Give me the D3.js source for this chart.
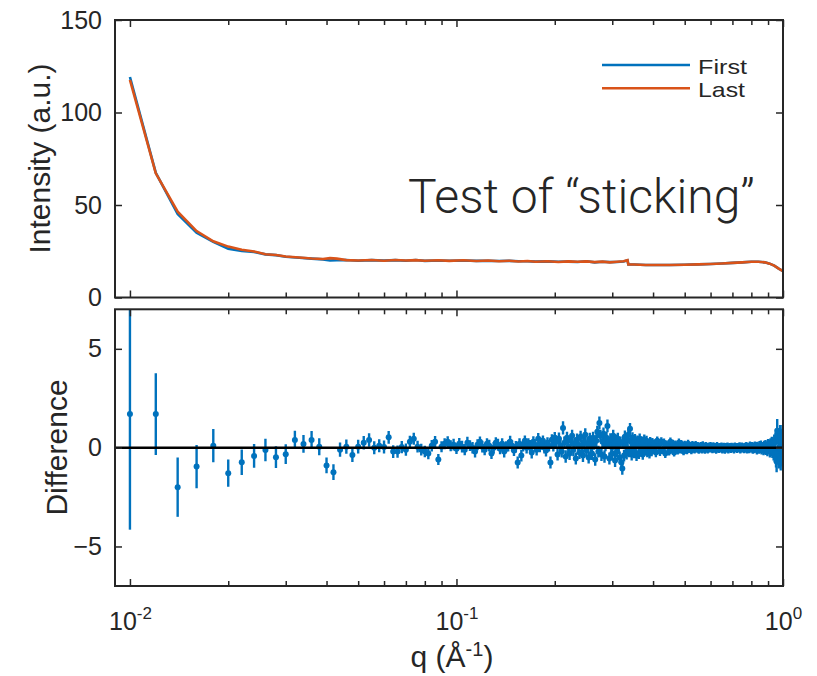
<!DOCTYPE html>
<html>
<head>
<meta charset="utf-8">
<script src="https://cdn.jsdelivr.net/npm/d3@7"></script>
<style>
  body { margin: 0; background: #fff; }
  text { font-family: 'Liberation Sans', Arial, sans-serif; fill: #262626; }
</style>
</head>
<body>
<div id="chart"></div>
<script>
/* globals d3 */

// intensity curves (top panel)
let qCurve = [0.010, 0.012, 0.014, 0.016, 0.018, 0.020, 0.022, 0.024, 0.026, 0.028,
  0.030, 0.033, 0.036, 0.039, 0.041, 0.043, 0.046, 0.050, 0.055, 0.060,
  0.065, 0.070, 0.075, 0.080, 0.088, 0.095, 0.105, 0.115, 0.125, 0.135,
  0.145, 0.155, 0.165, 0.175, 0.190, 0.205, 0.220, 0.235, 0.250, 0.265,
  0.280, 0.295, 0.310, 0.325, 0.334, 0.336, 0.350, 0.380, 0.410, 0.450,
  0.500, 0.550, 0.600, 0.650, 0.700, 0.750, 0.800, 0.840, 0.880, 0.910,
  0.940, 0.970, 1.000]
let intensityFirst = [119.2, 67.4, 45.2, 35.0, 30.1, 26.3, 25.2, 24.6, 23.3, 22.9,
  22.0, 21.5, 21.0, 20.6, 20.0, 20.2, 20.3, 19.9, 20.2, 20.0,
  20.2, 19.9, 20.3, 19.8, 20.0, 19.9, 20.0, 19.8, 19.9, 19.7,
  19.8, 19.6, 19.6, 19.4, 19.5, 19.3, 19.4, 19.2, 19.6, 19.0,
  19.3, 19.1, 19.2, 19.5, 20.1, 17.9, 17.8, 17.6, 17.6, 17.6,
  17.7, 17.9, 18.1, 18.4, 18.7, 19.0, 19.3, 19.3, 19.0, 18.3,
  17.2, 15.6, 14.3]
let intensityLast = [117.6, 67.1, 46.4, 35.9, 30.4, 27.5, 25.8, 24.9, 23.4, 23.0,
  22.2, 21.6, 21.1, 20.8, 21.3, 21.0, 20.2, 20.0, 20.3, 19.9,
  20.3, 20.0, 20.2, 19.9, 20.1, 19.8, 20.1, 19.7, 20.0, 19.6,
  19.9, 19.5, 19.7, 19.3, 19.6, 19.2, 19.5, 19.3, 19.5, 19.1,
  19.4, 19.0, 19.3, 19.6, 20.2, 17.9, 17.8, 17.6, 17.6, 17.6,
  17.7, 17.9, 18.1, 18.4, 18.7, 19.0, 19.3, 19.3, 19.0, 18.3,
  17.2, 15.6, 14.2]

// difference (bottom panel), q in 1e-3 A^-1
let qMilli = [10, 12, 14, 16, 18, 20, 22, 24, 26, 28, 30, 32, 34, 36, 38, 40, 42, 44, 46, 48,
  50, 52, 54, 56, 58, 60, 62, 64, 66, 68, 70, 72, 74, 76, 78, 80, 82, 84, 86, 88, 90, 92, 94,
  96, 98, 100, 102, 104, 106, 108, 110, 112, 114, 116, 118, 120, 122, 124, 126, 128, 130,
  132, 134, 136, 138, 140, 142, 144, 146, 148, 150, 152, 154, 156, 158, 160, 162, 164, 166,
  168, 170, 172, 174, 176, 178, 180, 182, 184, 186, 188, 190, 192, 194, 196, 198, 200,
  202, 204, 206, 208, 210, 212, 214, 216, 218, 220,
  222, 224, 226, 228, 230, 232, 234, 236, 238, 240,
  242, 244, 246, 248, 250, 252, 254, 256, 258, 260,
  262, 264, 266, 268, 270, 272, 274, 276, 278, 280,
  282, 284, 286, 288, 290, 292, 294, 296, 298, 300,
  302, 304, 306, 308, 310, 312, 314, 316, 318, 320,
  322, 324, 326, 328, 330, 332, 334, 336, 338, 340,
  342, 344, 346, 348, 350, 352, 354, 356, 358, 360,
  362, 364, 366, 368, 370, 372, 374, 376, 378, 380,
  382, 384, 386, 388, 390, 392, 394, 396, 398, 400,
  404, 408, 412, 416, 420, 424, 428, 432, 436, 440,
  444, 448, 452, 456, 460, 464, 468, 472, 476, 480,
  484, 488, 492, 496, 500, 504, 508, 512, 516, 520,
  524, 528, 532, 536, 540, 544, 548, 552, 556, 560,
  564, 568, 572, 576, 580, 584, 588, 592, 596, 600,
  604, 608, 612, 616, 620, 624, 628, 632, 636, 640,
  644, 648, 652, 656, 660, 664, 668, 672, 676, 680,
  684, 688, 692, 696, 700, 704, 708, 712, 716, 720,
  724, 728, 732, 736, 740, 744, 748, 752, 756, 760,
  764, 768, 772, 776, 780, 784, 788, 792, 796, 800,
  804, 808, 812, 816, 820, 824, 828, 832, 836, 840,
  844, 848, 852, 856, 860, 864, 868, 872, 876, 880,
  884, 888, 892, 896, 900, 904, 908, 912, 916, 920,
  924, 928, 932, 936, 940, 944, 948, 952, 956, 960,
  964, 968, 972, 976, 980, 984, 988, 992, 996, 1000]
let difference = [1.7, 1.7, -2.0, -0.96, 0.1, -1.29, -0.74, -0.42, -0.12, -0.48,
  -0.33, 0.39, 0.19, 0.39, 0.05, -0.9, -1.24, -0.1, 0.05, -0.37,
  0.05, 0.25, 0.39, 0.0, 0.1, 0.03, 0.52, -0.2, -0.2, 0.03,
  -0.1, 0.3, 0.45, 0.05, -0.1, -0.2, -0.3, 0.1, 0.3, -0.6,
  0.05, 0.2, 0.3,
  0.1, 0.15, -0.05, 0.2, 0.05, -0.1, 0.25, 0.1, 0.0, -0.2,
  0.15, 0.3, 0.05, -0.1, 0.2, 0.1, -0.3, 0.0, 0.25, 0.15,
  -0.05, 0.2, -0.2, 0.05, 0.1, 0.3, 0.1, -0.15, 0.05, -0.75,
  0.2, -0.4, 0.1, 0.35, 0.0, 0.2, 0.1, -0.25, 0.3, 0.15,
  -0.1, 0.45, 0.05, 0.2, 0.35, 0.0, -0.15, 0.25, 0.1, -0.75,
  0.4, 0.1, 0.5,
  0.3, -0.35, 0.45, 0.1, -0.2, 1.0, 0.25, -0.45, 0.5, 0.05,
  -0.3, 0.35, 0.6, -0.1, 0.2, -0.55, 0.4, 0.15, -0.25, 0.55,
  0.1, -0.4, 0.3, 0.65, -0.15, 0.2, -0.5, 0.45, 0.05, -0.3,
  0.5, 0.2, -0.6, 0.35, 0.8, -0.2, 1.25, 0.6, -0.35, 0.3,
  0.7, -0.45, 0.15, 0.5, 1.1, 0.25, -0.55, 0.4, 0.05, -0.3,
  0.6, 0.2, -0.65, 0.35, -0.2, 0.45, 0.1, -0.5, 0.25, -0.75,
  -1.05, 0.3, -0.4, 0.55, 0.1, -0.3, 0.4, 0.65, -0.2, 0.95,
  0.3, -0.35, 0.5, 0.15, -0.25, 0.4, 0.05, -0.4, 0.35, 0.2,
  -0.3, 0.45, 0.1, -0.2, 0.3, -0.35, 0.25, 0.4, -0.15, 0.1,
  0.35, -0.25, 0.2, 0.05, -0.3, 0.3, 0.15, -0.2, 0.25, 0.0,
  0.2, -0.25, 0.35, 0.05, -0.2, 0.3, -0.1, 0.25, -0.3, 0.15,
  0.1, -0.2, 0.3, -0.05, 0.2, -0.25, 0.15, 0.05, -0.15, 0.25,
  -0.1, 0.2, 0.0, -0.2, 0.15, 0.1, -0.15, 0.2, -0.05, 0.1,
  -0.15, 0.15, 0.05, -0.1, 0.15, -0.05, 0.1, -0.12, 0.05, 0.1,
  -0.1, 0.12, 0.0, -0.12, 0.1, 0.05, -0.1, 0.08, -0.05, 0.1,
  0.0, -0.1, 0.08, -0.05, 0.05, -0.12, 0.1, 0.0, -0.08, 0.05,
  -0.05, 0.08, -0.1, 0.02, 0.06, -0.12, 0.05, -0.03, 0.08, -0.1,
  0.0, 0.05, -0.08, 0.06, -0.05, 0.02, -0.1, 0.08, -0.02, 0.04,
  -0.08, 0.05, -0.04, 0.08, -0.1, 0.0, 0.06, -0.06, 0.03, -0.08,
  0.06, -0.04, 0.08, -0.1, 0.02, 0.05, -0.08, 0.1, -0.05, 0.0,
  0.08, -0.1, 0.05, -0.06, 0.1, -0.02, 0.06, -0.12, 0.08, 0.0,
  -0.08, 0.1, -0.05, 0.12, -0.1, 0.05, 0.0, -0.12, 0.1, -0.06,
  0.12, -0.1, 0.05, -0.15, 0.15, -0.05, 0.1, -0.18, 0.15, -0.1,
  0.2, -0.15, 0.1, -0.25, 0.25, -0.3, 0.3, -0.5, -0.7, 0.85,
  -0.35, 0.4, -0.45, 0.3, 0.55, -0.5, 0.35, -0.3, 0.45, -0.3]
let errorBar = [5.85, 2.07, 1.5, 1.1, 0.84, 0.69, 0.65, 0.6, 0.57, 0.55,
  0.5, 0.46, 0.45, 0.45, 0.43, 0.4, 0.4, 0.36, 0.36, 0.35,
  0.35, 0.34, 0.34, 0.33, 0.33, 0.33, 0.32, 0.32, 0.31, 0.31,
  0.31, 0.3, 0.3, 0.3, 0.3, 0.29, 0.29, 0.29, 0.29, 0.28,
  0.28, 0.28, 0.28,
  0.28, 0.3, 0.27, 0.29, 0.3, 0.28, 0.3, 0.27, 0.29, 0.3,
  0.28, 0.27, 0.3, 0.29, 0.28, 0.3, 0.27, 0.29, 0.28, 0.3,
  0.29, 0.27, 0.3, 0.28, 0.29, 0.3, 0.28, 0.27, 0.29, 0.3,
  0.28, 0.3, 0.29, 0.27, 0.3, 0.28, 0.29, 0.3, 0.28, 0.27,
  0.3, 0.29, 0.28, 0.3, 0.27, 0.29, 0.3, 0.28, 0.29, 0.3,
  0.28, 0.3, 0.29,
  0.31, 0.3, 0.32, 0.31, 0.3, 0.33, 0.31, 0.32, 0.3, 0.31,
  0.32, 0.3, 0.31, 0.33, 0.31, 0.3, 0.32, 0.31, 0.33, 0.3,
  0.31, 0.32, 0.3, 0.33, 0.31, 0.32, 0.3, 0.31, 0.33, 0.32,
  0.3, 0.31, 0.32, 0.33, 0.31, 0.3, 0.32, 0.31, 0.33, 0.3,
  0.32, 0.31, 0.33, 0.3, 0.32, 0.31, 0.3, 0.33, 0.31, 0.32,
  0.3, 0.31, 0.33, 0.32, 0.3, 0.31, 0.32, 0.3, 0.31, 0.33,
  0.32, 0.31, 0.3, 0.32, 0.31, 0.3, 0.31, 0.3, 0.29, 0.3,
  0.29, 0.3, 0.28, 0.29, 0.28, 0.29, 0.27, 0.28, 0.27, 0.28,
  0.27, 0.26, 0.27, 0.26, 0.27, 0.26, 0.25, 0.26, 0.25, 0.26,
  0.25, 0.24, 0.25, 0.24, 0.25, 0.24, 0.24, 0.23, 0.24, 0.23,
  0.23, 0.24, 0.22, 0.23, 0.22, 0.23, 0.22, 0.21, 0.22, 0.21,
  0.21, 0.2, 0.21, 0.2, 0.2, 0.2, 0.21, 0.2, 0.2, 0.21,
  0.2, 0.19, 0.2, 0.19, 0.2, 0.19, 0.19, 0.2, 0.19, 0.19,
  0.19, 0.19, 0.2, 0.19, 0.19, 0.2, 0.19, 0.19, 0.2, 0.19,
  0.19, 0.2, 0.19, 0.19, 0.18, 0.19, 0.19, 0.18, 0.19, 0.19,
  0.19, 0.18, 0.19, 0.19, 0.18, 0.19, 0.18, 0.19, 0.19, 0.18,
  0.19, 0.18, 0.19, 0.18, 0.19, 0.19, 0.18, 0.19, 0.18, 0.19,
  0.19, 0.18, 0.19, 0.19, 0.18, 0.19, 0.19, 0.18, 0.19, 0.19,
  0.19, 0.19, 0.18, 0.19, 0.19, 0.19, 0.2, 0.19, 0.19, 0.2,
  0.19, 0.2, 0.2, 0.19, 0.2, 0.2, 0.2, 0.21, 0.2, 0.21,
  0.21, 0.21, 0.21, 0.22, 0.21, 0.22, 0.22, 0.23, 0.22, 0.23,
  0.23, 0.24, 0.23, 0.24, 0.25, 0.24, 0.25, 0.26, 0.25, 0.26,
  0.27, 0.27, 0.28, 0.29, 0.29, 0.3, 0.31, 0.32, 0.33, 0.34,
  0.35, 0.37, 0.38, 0.4, 0.42, 0.44, 0.47, 0.5, 0.55, 0.6,
  0.5, 0.55, 0.6, 0.55, 0.6, 0.65, 0.6, 0.65, 0.7, 0.75]

let seriesNames = ['First', 'Last']
let intensityTicks = [0, 50, 100, 150]
let differenceTicks = [-5, 0, 5]
let qMajor = [0.01, 0.1, 1]
let qMinor = [0.02, 0.03, 0.04, 0.05, 0.06, 0.07, 0.08, 0.09, 0.2, 0.3, 0.4, 0.5, 0.6, 0.7, 0.8, 0.9]

let blue = '#0072BD'
let orange = '#D95319'
let axisColor = '#262626'

let svg = d3.select('#chart').append('svg').attr('width', 817).attr('height', 676)
svg.append('rect').attr('width', 817).attr('height', 676).attr('fill', '#fff')

let x = d3.scaleLog().domain([0.009, 1]).range([115, 783])
let yTop = d3.scaleLinear().domain([0, 150]).range([297.5, 20])
let yBot = d3.scaleLinear().domain([-7, 7]).range([586, 309.3])

function frame (y, ticks, showLabels) {
  let g = svg.append('g')
  let [y1, y0] = y.range()
  let left = x.range()[0]
  let right = x.range()[1]

  // x ticks bottom and top, pointing in
  g.append('g').attr('transform', 'translate(0,' + y1 + ')')
    .call(d3.axisBottom(x).tickValues(qMinor).tickSize(-5).tickFormat(''))
  g.append('g').attr('transform', 'translate(0,' + y0 + ')')
    .call(d3.axisTop(x).tickValues(qMinor).tickSize(-5).tickFormat(''))
  g.append('g').attr('transform', 'translate(0,' + y0 + ')')
    .call(d3.axisTop(x).tickValues(qMajor).tickSize(-7).tickFormat(''))
  let xb = g.append('g').attr('transform', 'translate(0,' + y1 + ')')
    .call(d3.axisBottom(x).tickValues(qMajor).tickSize(-7).tickFormat(showLabels ? (d) => d : ''))

  if (showLabels) {
    xb.selectAll('.tick text').each(function (d) {
      let t = d3.select(this)
      t.text('').attr('dy', 0).attr('y', 630 - y1)
      t.append('tspan').text('10')
      t.append('tspan').attr('dy', -11).attr('font-size', 17).text(Math.round(Math.log10(d)))
    })
  }

  // y ticks left (labelled) and right
  g.append('g').attr('transform', 'translate(' + left + ',0)')
    .call(d3.axisLeft(y).tickValues(ticks).tickSize(-7).tickPadding(13))
  g.append('g').attr('transform', 'translate(' + right + ',0)')
    .call(d3.axisRight(y).tickValues(ticks).tickSize(-7).tickFormat(''))

  g.selectAll('.domain').remove()
  g.selectAll('.tick line').attr('stroke', axisColor).attr('stroke-width', 1.5)
  g.selectAll('.tick text').attr('font-size', 25).attr('fill', axisColor)

  g.append('rect')
    .attr('x', left).attr('y', y0)
    .attr('width', right - left).attr('height', y1 - y0)
    .attr('fill', 'none').attr('stroke', axisColor).attr('stroke-width', 2)
}

// top panel: intensity
let curve = d3.line()
  .x((d) => x(d[0]))
  .y((d) => yTop(d[1]))

svg.append('path')
  .datum(d3.zip(qCurve, intensityFirst))
  .attr('d', curve)
  .attr('fill', 'none').attr('stroke', blue).attr('stroke-width', 2.6)

svg.append('path')
  .datum(d3.zip(qCurve, intensityLast))
  .attr('d', curve)
  .attr('fill', 'none').attr('stroke', orange).attr('stroke-width', 2.6)

frame(yTop, intensityTicks, false)

svg.append('text')
  .attr('x', 408).attr('y', 213)
  .style('font-family', 'Roboto, "Liberation Sans", sans-serif')
  .style('font-weight', 300)
  .attr('font-size', 48)
  .attr('fill', '#000')
  .text('Test of \u201csticking\u201d')

// legend
let legendColors = [blue, orange]
let legendWidths = [49, 47]
let legend = svg.append('g')
seriesNames.forEach(function (name, i) {
  let ly = 65 + i * 23.3
  legend.append('line')
    .attr('x1', 602).attr('x2', 690).attr('y1', ly).attr('y2', ly)
    .attr('stroke', legendColors[i]).attr('stroke-width', 2.6)
  legend.append('text')
    .attr('x', 698).attr('y', ly + 8.5)
    .attr('font-size', 21).attr('fill', '#000')
    .attr('textLength', legendWidths[i]).attr('lengthAdjust', 'spacingAndGlyphs')
    .text(name)
})

// bottom panel: difference with error bars
svg.append('clipPath').attr('id', 'clipBot')
  .append('rect').attr('x', 115).attr('y', 309.3).attr('width', 668).attr('height', 276.7)

let pts = qMilli.map((q, i) => ({ q: q / 1000, d: difference[i], e: errorBar[i] }))
let plot = svg.append('g').attr('clip-path', 'url(#clipBot)')

plot.selectAll('line.err')
  .data(pts)
  .enter().append('line')
    .attr('class', 'err')
    .attr('x1', (d) => x(d.q)).attr('x2', (d) => x(d.q))
    .attr('y1', (d) => yBot(d.d - d.e)).attr('y2', (d) => yBot(d.d + d.e))
    .attr('stroke', blue).attr('stroke-width', 2.4)

plot.selectAll('circle')
  .data(pts)
  .enter().append('circle')
    .attr('cx', (d) => x(d.q))
    .attr('cy', (d) => yBot(d.d))
    .attr('r', 3)
    .attr('fill', blue)

// zero line on top of the data
plot.append('line')
  .attr('x1', 115).attr('x2', 783).attr('y1', yBot(0)).attr('y2', yBot(0))
  .attr('stroke', '#000').attr('stroke-width', 2.5)

frame(yBot, differenceTicks, true)

// axis titles
svg.append('text')
  .attr('transform', 'translate(50,158.5) rotate(-90)')
  .attr('text-anchor', 'middle')
  .attr('font-size', 30)
  .text('Intensity (a.u.)')

svg.append('text')
  .attr('transform', 'translate(67,447.5) rotate(-90)')
  .attr('text-anchor', 'middle')
  .attr('font-size', 30)
  .text('Difference')

let xl = svg.append('text')
  .attr('x', 452).attr('y', 667)
  .attr('text-anchor', 'middle')
  .attr('font-size', 30)
xl.append('tspan').text('q (\u00c5')
xl.append('tspan').attr('dy', -11).attr('font-size', 20).text('-1')
xl.append('tspan').attr('dy', 11).text(')')
</script>
</body>
</html>
